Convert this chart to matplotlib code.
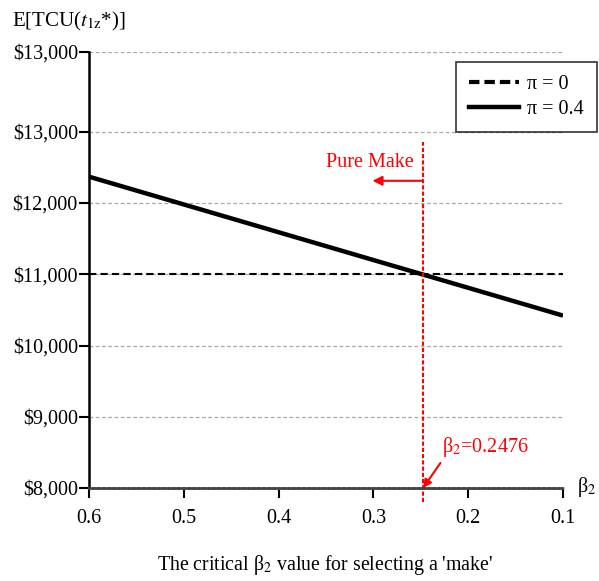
import numpy as np
import matplotlib.pyplot as plt
from matplotlib.lines import Line2D

plt.rcParams['font.family'] = ['Liberation Serif', 'DejaVu Serif']
plt.rcParams['mathtext.fontset'] = 'stix'

# beta_2 values and expected total cost for each pi
beta2 = [0.6, 0.5, 0.4, 0.3, 0.2, 0.1]
cost_pi0 = [11000, 11000, 11000, 11000, 11000, 11000]
cost_pi04 = [12370, 11980, 11590, 11200, 10810, 10420]
beta_crit = 0.2476

y_ticks = [8000, 9000, 10000, 11000, 12000, 13000, 14120]
y_labels = ['$8,000', '$9,000', '$10,000', '$11,000', '$12,000', '$13,000', '$13,000']
x_ticks = [0.6, 0.5, 0.4, 0.3, 0.2, 0.1]

fig = plt.figure(figsize=(5.99, 5.81), dpi=100)
ax = fig.add_axes([89/599, 1 - 488/581, (563 - 89)/599, (488 - 52)/581])

ax.plot(beta2, cost_pi0, color='black', lw=1.5, ls=(0, (3.5, 2)))
ax.plot(beta2, cost_pi04, color='black', lw=3.2, solid_capstyle='butt')

ax.set_xlim(0.6, 0.1)
ax.set_ylim(8000, 14120)
ax.set_xticks(x_ticks)
ax.set_xticklabels([f'{v:.1f}' for v in x_ticks])
ax.set_yticks(y_ticks)
ax.set_yticklabels(y_labels)
ax.tick_params(axis='both', labelsize=14.5, length=7, width=1.5, color='black')
ax.tick_params(axis='x', pad=8)
ax.tick_params(axis='y', pad=1)

for y in y_ticks[1:]:
    ax.axhline(y, color='#a8a8a8', lw=0.9, ls=(0, (3, 2)), zorder=0)

for s in ['top', 'right']:
    ax.spines[s].set_visible(False)
ax.spines['left'].set_linewidth(1.8)
ax.spines['bottom'].set_linewidth(2)
ax.spines['bottom'].set_color('#444444')
ax.spines['bottom'].set_linestyle((0, (1.2, 0.6)))

# critical beta_2 marker
ax.plot([beta_crit, beta_crit], [7800, 12860], color='red', lw=1.5,
        ls=(0, (2, 1)), clip_on=False)
ax.annotate('', xy=(0.301, 12312), xytext=(beta_crit, 12312),
            arrowprops=dict(arrowstyle='-|>', color='red', lw=1.5,
                            mutation_scale=14, shrinkA=0, shrinkB=0))
ax.text(0.304, 12570, 'Pure Make', color='red', fontsize=14.5,
        ha='center', va='center')
ax.annotate('', xy=(beta_crit, 8000), xytext=(0.2293, 8351),
            arrowprops=dict(arrowstyle='-|>', color='red', lw=1.5,
                            mutation_scale=12, shrinkA=0, shrinkB=0))
ax.text(0.2275, 8580, 'β$_2$=0.2476', color='red', fontsize=14.5,
        ha='left', va='center')

handles = [Line2D([], [], color='black', lw=3, ls=(0, (2.5, 1.2))),
           Line2D([], [], color='black', lw=3.2)]
leg = ax.legend(handles, ['π = 0', 'π = 0.4'], loc='upper right',
                bbox_to_anchor=(597/599, 1 - 62/581), bbox_transform=fig.transFigure,
                borderaxespad=0, fontsize=14.5, frameon=True, fancybox=False,
                handlelength=2.5, handletextpad=0.4, borderpad=0.65, labelspacing=0.3)
leg.get_frame().set_edgecolor('black')
leg.get_frame().set_linewidth(1.2)

fig.text(12/599, 1 - 21/581, 'E[TCU($\\mathit{t}_{\\mathrm{1z}}$*)]', fontsize=15,
         ha='left', va='center')
fig.text(577/599, 1 - 487/581, 'β$_2$', fontsize=14.5, ha='left', va='center')
fig.text(325/599, 1 - 565/581, "The critical β$_2$ value for selecting a 'make'",
         fontsize=14.3, ha='center', va='center')

fig.savefig('out.png', dpi=100)
